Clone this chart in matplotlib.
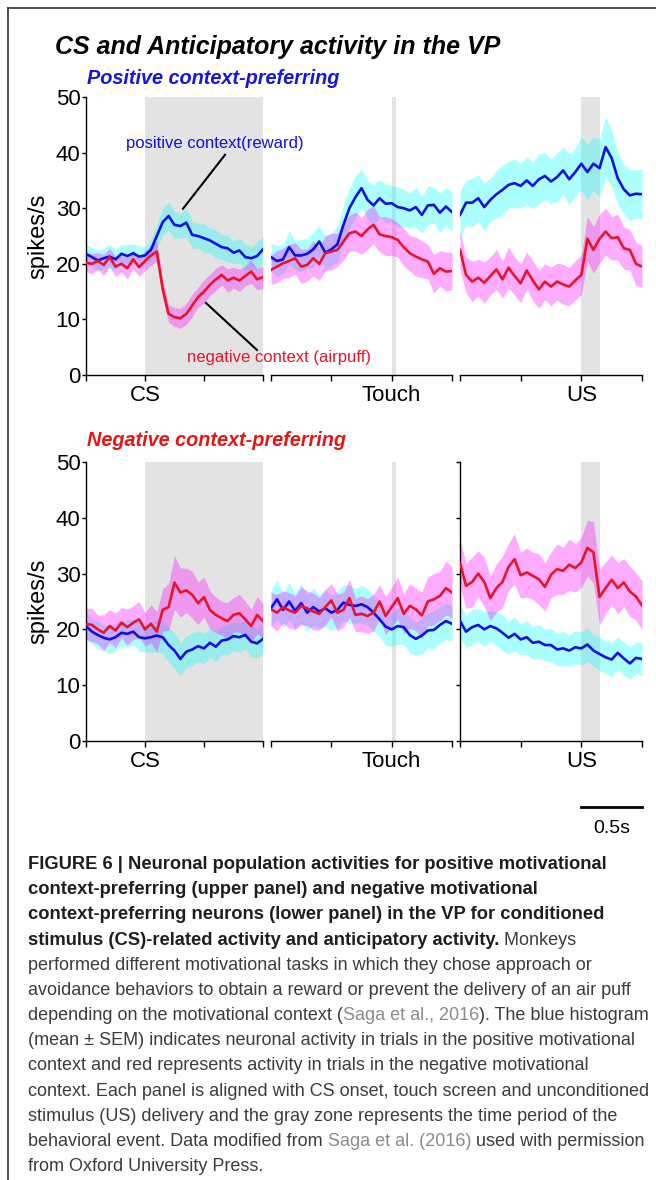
import numpy as np
import matplotlib
matplotlib.use("Agg")
import matplotlib.pyplot as plt

W, H = 656, 1180

# time grids (s), 0.05 s bins
t_cs = np.round(np.arange(-0.5, 1.0001, 0.05), 3)
t_ev = np.round(np.arange(-1.0, 0.5001, 0.05), 3)

# ---------------- upper panel: positive context-preferring ----------------
pos_cs_blue = [21.8, 21.2, 20.6, 21.0, 21.3, 20.8, 21.8, 21.4, 21.9, 21.3, 21.5, 22.5, 25.0, 27.5, 28.6, 27.0,
               26.8, 27.4, 25.2, 25.0, 24.6, 24.2, 23.6, 23.0, 22.8, 22.0, 22.4, 21.2, 21.0, 21.4, 22.6]
pos_cs_blue_sem = [1.8, 1.6, 2.0, 1.7, 2.2, 1.8, 1.6, 2.0, 1.7, 1.9, 1.6, 1.8, 2.2, 2.4, 2.6, 2.4,
                   2.2, 2.6, 2.4, 2.2, 2.6, 2.3, 2.5, 2.2, 2.4, 2.0, 2.2, 2.4, 2.1, 2.5, 2.3]
pos_cs_red = [20.2, 20.0, 20.5, 19.8, 21.2, 19.5, 20.0, 19.2, 20.8, 19.4, 20.5, 21.5, 22.2, 15.5, 11.0, 10.4,
              10.2, 11.0, 12.5, 14.0, 15.0, 16.2, 17.2, 18.0, 17.0, 17.5, 17.0, 17.8, 18.6, 17.2, 17.6]
pos_cs_red_sem = [1.6, 1.8, 1.5, 1.9, 1.6, 1.8, 1.5, 1.9, 1.7, 1.6, 1.8, 1.7, 1.9, 1.8, 1.6, 1.7,
                  1.8, 1.9, 2.0, 1.8, 2.1, 1.9, 2.0, 1.8, 2.1, 1.9, 2.0, 1.8, 2.1, 1.9, 2.0]

pos_touch_blue = [21.2, 20.5, 20.8, 23.0, 21.5, 21.5, 21.8, 22.6, 24.0, 22.0, 22.6, 23.5, 27.0, 30.0, 32.0, 33.6,
                  31.5, 30.5, 31.8, 30.8, 30.9, 30.2, 30.0, 29.6, 30.2, 28.8, 30.5, 30.6, 29.2, 30.3, 29.3]
pos_touch_blue_sem = [2.4, 2.8, 2.5, 3.0, 2.6, 2.9, 2.7, 3.1, 2.8, 3.0, 2.9, 3.2, 3.5, 3.6, 3.8, 3.5,
                      3.4, 3.7, 3.3, 3.5, 3.2, 3.6, 3.4, 3.2, 3.6, 3.3, 3.5, 3.2, 3.6, 3.4, 3.5]
pos_touch_red = [18.9, 19.5, 20.1, 20.5, 21.0, 19.5, 19.8, 21.0, 20.0, 21.9, 22.2, 22.5, 24.0, 25.5, 25.8, 25.0,
                 26.2, 27.0, 25.3, 25.0, 24.8, 24.3, 23.0, 21.9, 21.3, 20.8, 20.4, 18.2, 19.2, 18.6, 18.7]
pos_touch_red_sem = [2.6, 2.9, 2.7, 3.0, 2.8, 3.1, 2.9, 3.2, 3.0, 3.1, 3.3, 3.0, 3.4, 3.2, 3.5, 3.3,
                     3.6, 3.4, 3.2, 3.5, 3.3, 3.1, 3.4, 3.2, 3.5, 3.3, 3.1, 3.4, 3.2, 3.5, 3.3]

pos_us_blue = [28.8, 31.0, 31.0, 31.8, 30.2, 31.5, 32.5, 33.3, 34.2, 34.5, 34.0, 35.0, 34.0, 35.2, 35.8, 34.8,
               35.6, 36.8, 35.2, 36.5, 38.0, 36.5, 38.0, 37.2, 41.0, 39.0, 35.4, 33.4, 32.3, 32.6, 32.5]
pos_us_blue_sem = [4.2, 4.0, 4.4, 4.1, 4.3, 3.9, 4.2, 4.5, 4.1, 4.4, 4.0, 4.3, 4.1, 4.5, 4.2, 4.0,
                   4.4, 4.2, 4.6, 4.3, 4.8, 5.0, 4.8, 5.2, 5.5, 5.0, 4.6, 4.4, 4.6, 4.3, 4.5]
pos_us_red = [22.5, 18.0, 16.8, 17.5, 16.6, 17.8, 19.0, 17.2, 19.3, 17.8, 16.5, 18.8, 17.0, 15.4, 16.8, 15.9,
              16.8, 16.3, 15.9, 17.0, 18.0, 24.5, 22.5, 24.5, 25.8, 24.6, 24.8, 22.8, 22.5, 20.0, 19.5]
pos_us_red_sem = [3.5, 3.2, 3.6, 3.3, 3.7, 3.4, 3.6, 3.3, 3.7, 3.4, 3.5, 3.3, 3.6, 3.4, 3.2, 3.5,
                  3.3, 3.6, 3.4, 3.5, 3.6, 4.0, 4.2, 4.4, 4.2, 3.9, 4.1, 3.8, 3.6, 3.9, 3.7]

# ---------------- lower panel: negative context-preferring ----------------
neg_cs_blue = [20.6, 19.6, 19.0, 18.5, 18.2, 18.6, 19.4, 19.2, 19.6, 18.6, 18.4, 18.6, 18.9, 18.6, 17.2, 16.2,
               14.7, 16.0, 16.4, 17.0, 16.6, 17.6, 16.9, 18.0, 18.2, 18.8, 18.6, 19.0, 17.8, 17.5, 18.3]
neg_cs_blue_sem = [2.4, 2.2, 2.5, 2.3, 2.6, 2.4, 2.2, 2.5, 2.3, 2.6, 2.4, 2.7, 2.9, 3.0, 3.1, 3.2,
                   3.0, 2.8, 2.9, 2.7, 2.8, 2.6, 2.7, 2.5, 2.8, 2.6, 2.7, 2.5, 2.8, 2.6, 2.7]
neg_cs_red = [21.0, 20.8, 20.0, 19.4, 20.6, 19.8, 21.2, 20.4, 21.2, 21.8, 20.0, 21.0, 19.6, 23.5, 24.0, 28.4,
              26.6, 27.0, 26.2, 24.7, 25.8, 23.5, 22.6, 22.0, 21.5, 22.6, 22.9, 21.8, 20.6, 22.6, 21.5]
neg_cs_red_sem = [2.8, 3.0, 2.6, 3.2, 2.9, 3.1, 2.7, 3.3, 3.0, 3.2, 3.0, 3.4, 3.6, 3.8, 4.2, 4.8,
                  4.4, 4.0, 4.2, 3.8, 3.6, 3.4, 3.2, 3.0, 3.3, 3.1, 3.4, 3.2, 3.0, 3.3, 3.1]

neg_touch_blue = [23.8, 25.4, 23.5, 25.0, 23.3, 24.7, 23.0, 24.0, 23.2, 23.8, 23.0, 23.5, 24.8, 24.4, 24.2, 24.5,
                  24.0, 23.0, 21.8, 20.5, 20.0, 20.6, 20.4, 19.0, 18.3, 18.9, 19.8, 19.9, 20.8, 21.5, 21.0]
neg_touch_blue_sem = [3.2, 3.5, 3.0, 3.4, 3.1, 3.5, 3.2, 3.4, 3.0, 3.3, 3.1, 3.4, 3.2, 3.5, 3.1, 3.4,
                      3.2, 3.3, 3.1, 3.4, 3.0, 3.3, 3.1, 3.2, 3.0, 3.3, 3.1, 3.4, 3.2, 3.3, 3.1]
neg_touch_red = [23.6, 23.0, 24.0, 23.4, 23.0, 24.2, 23.8, 23.2, 22.8, 24.0, 25.2, 23.0, 23.5, 25.6, 22.6, 22.8,
                 22.4, 23.0, 25.0, 22.4, 24.0, 25.6, 22.8, 24.2, 23.6, 22.5, 25.0, 25.4, 26.0, 27.4, 26.6]
neg_touch_red_sem = [3.0, 3.3, 2.9, 3.2, 3.0, 3.4, 3.1, 3.3, 2.9, 3.2, 3.0, 3.3, 3.1, 3.4, 3.0, 3.2,
                     3.1, 3.3, 3.0, 3.4, 3.5, 3.8, 3.6, 4.0, 3.8, 4.2, 4.4, 4.6, 4.4, 4.8, 4.6]

neg_us_blue = [21.5, 19.6, 20.4, 20.8, 20.0, 20.6, 20.2, 19.4, 18.5, 19.2, 18.2, 18.6, 17.6, 17.8, 17.2, 17.2,
               16.4, 16.6, 16.2, 16.8, 16.6, 17.3, 16.2, 15.6, 15.0, 14.6, 15.8, 14.8, 13.9, 14.9, 14.7]
neg_us_blue_sem = [3.0, 2.8, 3.2, 2.9, 3.1, 2.8, 3.0, 3.2, 2.9, 3.1, 2.8, 3.0, 2.9, 3.1, 2.8, 3.0,
                   2.9, 3.1, 2.8, 3.0, 2.9, 3.1, 2.8, 3.0, 2.9, 3.1, 2.8, 3.0, 2.9, 2.8, 3.0]
neg_us_red = [31.9, 27.8, 28.5, 30.0, 28.5, 25.6, 27.4, 28.5, 31.2, 32.6, 29.7, 30.2, 29.6, 29.0, 27.6, 29.8,
              30.8, 30.5, 31.6, 31.0, 32.0, 34.6, 33.8, 25.8, 27.4, 28.9, 27.4, 28.4, 26.8, 25.9, 24.3]
neg_us_red_sem = [4.2, 4.0, 4.5, 4.1, 4.4, 4.0, 4.3, 4.6, 4.2, 4.5, 4.1, 4.4, 4.2, 4.6, 4.3, 4.1,
                  4.5, 4.2, 4.6, 4.3, 4.5, 5.0, 5.5, 5.0, 4.6, 4.4, 4.6, 4.3, 4.5, 4.2, 4.4]

event_names = ["CS", "Touch", "US"]
event_gray = [(0.0, 1.0), (0.0, 0.035), (0.0, 0.15)]   # gray zone (behavioural event)
yticks = [0, 10, 20, 30, 40, 50]

BLUE = '#1010e6'
RED = '#e8142a'
GRAY = '#e3e3e3'

plt.rcParams['font.family'] = ['Liberation Sans', 'DejaVu Sans']

fig = plt.figure(figsize=(W / 100, H / 100), dpi=100)


def add_ax(x0, x1, ytop, ybot):
    return fig.add_axes([x0 / W, 1 - ybot / H, (x1 - x0) / W, (ybot - ytop) / H])


col_px = [(86, 263), (271, 452), (460, 642)]
xlims = [(-0.5, 1.0), (-1.0, 0.5), (-1.0, 0.5)]
row_px = [(97, 375), (462, 741)]

rows = [
    [(t_cs, pos_cs_blue, pos_cs_blue_sem, pos_cs_red, pos_cs_red_sem),
     (t_ev, pos_touch_blue, pos_touch_blue_sem, pos_touch_red, pos_touch_red_sem),
     (t_ev, pos_us_blue, pos_us_blue_sem, pos_us_red, pos_us_red_sem)],
    [(t_cs, neg_cs_blue, neg_cs_blue_sem, neg_cs_red, neg_cs_red_sem),
     (t_ev, neg_touch_blue, neg_touch_blue_sem, neg_touch_red, neg_touch_red_sem),
     (t_ev, neg_us_blue, neg_us_blue_sem, neg_us_red, neg_us_red_sem)],
]

axes = []
for ri, (ytop, ybot) in enumerate(row_px):
    row_axes = []
    for ci, (x0, x1) in enumerate(col_px):
        ax = add_ax(x0, x1, ytop, ybot)
        t, b, bs, r, rs = rows[ri][ci]
        b, bs, r, rs = map(np.array, (b, bs, r, rs))
        ax.axvspan(*event_gray[ci], color=GRAY, lw=0, zorder=0)
        ax.fill_between(t, b - bs, b + bs, color='#00ffff', alpha=0.33, lw=0, zorder=1)
        ax.fill_between(t, r - rs, r + rs, color='#ff00ff', alpha=0.33, lw=0, zorder=1)
        ax.plot(t, b, color=BLUE, lw=1.9, zorder=3)
        ax.plot(t, r, color=RED, lw=1.9, zorder=3)
        ax.set_xlim(*xlims[ci])
        ax.set_ylim(0, 50)
        ax.set_facecolor('none')
        for s in ['top', 'right']:
            ax.spines[s].set_visible(False)
        ax.spines['bottom'].set_linewidth(1.0)
        ax.spines['left'].set_linewidth(1.0)
        ticks = np.arange(xlims[ci][0], xlims[ci][1] + 0.01, 0.5)
        ax.set_xticks(ticks)
        ax.set_xticklabels([event_names[ci] if abs(v) < 1e-9 else '' for v in ticks])
        ax.tick_params(axis='x', direction='out', length=4, width=1, pad=3, labelsize=16)
        if ci == 0:
            ax.set_yticks(yticks)
            ax.tick_params(axis='y', direction='out', length=3, width=1, pad=1, labelsize=16)
            ax.set_ylabel('spikes/s', fontsize=17)
            ax.yaxis.set_label_coords(-0.205, 0.5)
        elif ci == 2 and ri == 1:
            ax.set_yticks(yticks)
            ax.tick_params(axis='y', direction='out', length=3, width=1, labelleft=False)
        else:
            ax.spines['left'].set_visible(False)
            ax.set_yticks([])
        row_axes.append(ax)
    axes.append(row_axes)

# annotations in the upper CS panel
ax = axes[0][0]
ax.text(0.593, 41.7, 'positive context(reward)', color=BLUE, fontsize=12, ha='center', va='center')
ax.plot([0.322, 0.678], [29.9, 39.6], color='black', lw=1.5, clip_on=False, zorder=4)
ax.text(1.136, 3.2, 'negative context (airpuff)', color=RED, fontsize=12, ha='center', va='center')
ax.plot([0.517, 0.949], [12.95, 4.5], color='black', lw=1.5, clip_on=False, zorder=4)

# scale bar
ax = axes[1][2]
ax.plot([0.0, 0.5], [-11.8, -11.8], color='black', lw=2, clip_on=False)
ax.text(0.25, -15.6, '0.5s', fontsize=14, ha='center', va='center')

# titles
fig.text(55 / W, 1 - 47 / H, 'CS and Anticipatory activity in the VP', fontsize=18,
         weight='bold', style='italic', va='center', ha='left')
fig.text(87 / W, 1 - 78 / H, 'Positive context-preferring', fontsize=14.3, color='#1414e6',
         weight='bold', style='italic', va='center', ha='left')
fig.text(87 / W, 1 - 440 / H, 'Negative context-preferring', fontsize=14.3, color='#e81414',
         weight='bold', style='italic', va='center', ha='left')

# page frame
cap = fig.add_axes([0, 0, 1, 1])
cap.set_xlim(0, W)
cap.set_ylim(H, 0)
cap.axis('off')
cap.plot([7.5, 7.5], [8, H], color='#333333', lw=1.2)
cap.plot([7.5, W], [8, 8], color='#333333', lw=1.2)

# caption
DARK = '#1e1e1e'
TXT = '#3c3c3c'
LINK = '#8a8a8a'
caption = [
    [("FIGURE 6 | Neuronal population activities for positive motivational", 'bold', DARK)],
    [("context-preferring (upper panel) and negative motivational", 'bold', DARK)],
    [("context-preferring neurons (lower panel) in the VP for conditioned", 'bold', DARK)],
    [("stimulus (CS)-related activity and anticipatory activity.", 'bold', DARK), (" Monkeys", 'normal', TXT)],
    [("performed different motivational tasks in which they chose approach or", 'normal', TXT)],
    [("avoidance behaviors to obtain a reward or prevent the delivery of an air puff", 'normal', TXT)],
    [("depending on the motivational context (", 'normal', TXT), ("Saga et al., 2016", 'normal', LINK),
     ("). The blue histogram", 'normal', TXT)],
    [("(mean \u00b1 SEM) indicates neuronal activity in trials in the positive motivational", 'normal', TXT)],
    [("context and red represents activity in trials in the negative motivational", 'normal', TXT)],
    [("context. Each panel is aligned with CS onset, touch screen and unconditioned", 'normal', TXT)],
    [("stimulus (US) delivery and the gray zone represents the time period of the", 'normal', TXT)],
    [("behavioral event. Data modified from ", 'normal', TXT), ("Saga et al. (2016)", 'normal', LINK),
     (" used with permission", 'normal', TXT)],
    [("from Oxford University Press.", 'normal', TXT)],
]

renderer = fig.canvas.get_renderer()
CAP_FS = {'bold': 13.2, 'normal': 12.95}


def text_width(s, weight):
    # width in pixels, including leading/trailing spaces
    probe = cap.text(0, 0, '|' + s + '|', fontsize=CAP_FS[weight], weight=weight)
    bar = cap.text(0, 0, '||', fontsize=CAP_FS[weight], weight=weight)
    w = probe.get_window_extent(renderer).width - bar.get_window_extent(renderer).width
    probe.remove()
    bar.remove()
    return w


for i, parts in enumerate(caption):
    y = 869 + 25.17 * i
    x = 28
    for s, weight, color in parts:
        cap.text(x, y, s, fontsize=CAP_FS[weight], weight=weight, color=color,
                 ha='left', va='baseline')
        x += text_width(s, weight)

fig.savefig('out.png', dpi=100)
